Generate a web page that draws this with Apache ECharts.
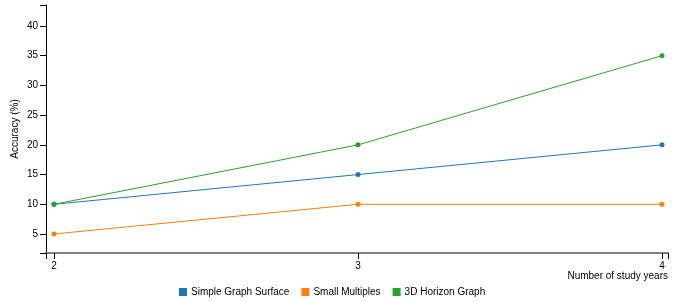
<!DOCTYPE html>
<html>
<head>
<meta charset="utf-8">
<script src="https://cdn.jsdelivr.net/npm/echarts@6/dist/echarts.min.js"></script>
<style>
html,body{margin:0;padding:0;background:#fff;}
#chart{width:687px;height:302px;}
</style>
</head>
<body>
<div id="chart"></div>
<script>
const studyYears = [2, 3, 4];
const simpleGraphSurface = [10, 15, 20];
const smallMultiples = [5, 10, 10];
const horizonGraph3D = [10, 20, 35];
const seriesNames = ['Simple Graph Surface', 'Small Multiples', '3D Horizon Graph'];
const yTickLabels = [5, 10, 15, 20, 25, 30, 35, 40];
const xTickLabels = [2, 3, 4];

const colors = ['#1f77b4', '#ff7f0e', '#2ca02c'];
const xMin = 1.9737, xMax = 4.0197;
const yMin = 1.803, yMax = 43.53;
const font = 'Liberation Sans, Arial, sans-serif';

function pairs(vals) { return studyYears.map((x, i) => [x, vals[i]]); }

const chart = echarts.init(document.getElementById('chart'), null, {renderer: 'canvas'});
chart.setOption({
  animation: false,
  color: colors,
  grid: {left: 46, right: 19, top: 5, bottom: 49, containLabel: false, outerBoundsMode: 'none'},
  xAxis: {
    type: 'value', min: xMin, max: xMax,
    splitLine: {show: false},
    axisLine: {show: true, lineStyle: {color: '#808080', width: 2}},
    axisTick: {show: true, length: 6, customValues: [xMin, ...xTickLabels, xMax], lineStyle: {color: '#000', width: 1}},
    axisLabel: {customValues: xTickLabels, margin: 8, fontSize: 10, color: '#000', fontFamily: font},
    name: 'Number of study years',
    nameLocation: 'end', nameGap: 0, nameMoveOverlap: false,
    nameTextStyle: {align: 'right', verticalAlign: 'top', padding: [18, 0, 0, 0], fontSize: 10, color: '#000', fontFamily: font}
  },
  yAxis: {
    type: 'value', min: yMin, max: yMax,
    splitLine: {show: false},
    axisLine: {show: true, lineStyle: {color: '#000', width: 1}},
    axisTick: {show: true, length: 6, customValues: [yMin, ...yTickLabels, yMax], lineStyle: {color: '#000'}},
    axisLabel: {customValues: yTickLabels, margin: 8, fontSize: 10, color: '#000', fontFamily: font},
    name: 'Accuracy (%)',
    nameLocation: 'middle', nameGap: 26, nameRotate: 90, nameMoveOverlap: false,
    nameTextStyle: {fontSize: 10, color: '#000', fontFamily: font}
  },
  legend: {
    left: 179, top: 287, padding: 0,
    itemWidth: 8, itemHeight: 8, itemGap: 12, icon: 'rect',
    textStyle: {fontSize: 10, color: '#000', fontFamily: font, padding: [0, 0, 0, -1]},
    data: seriesNames
  },
  series: [
    {name: seriesNames[0], type: 'line', data: pairs(simpleGraphSurface)},
    {name: seriesNames[1], type: 'line', data: pairs(smallMultiples)},
    {name: seriesNames[2], type: 'line', data: pairs(horizonGraph3D)}
  ].map(s => Object.assign(s, {symbol: 'circle', symbolSize: 5, lineStyle: {width: 1}, showSymbol: true}))
});
</script>
</body>
</html>
